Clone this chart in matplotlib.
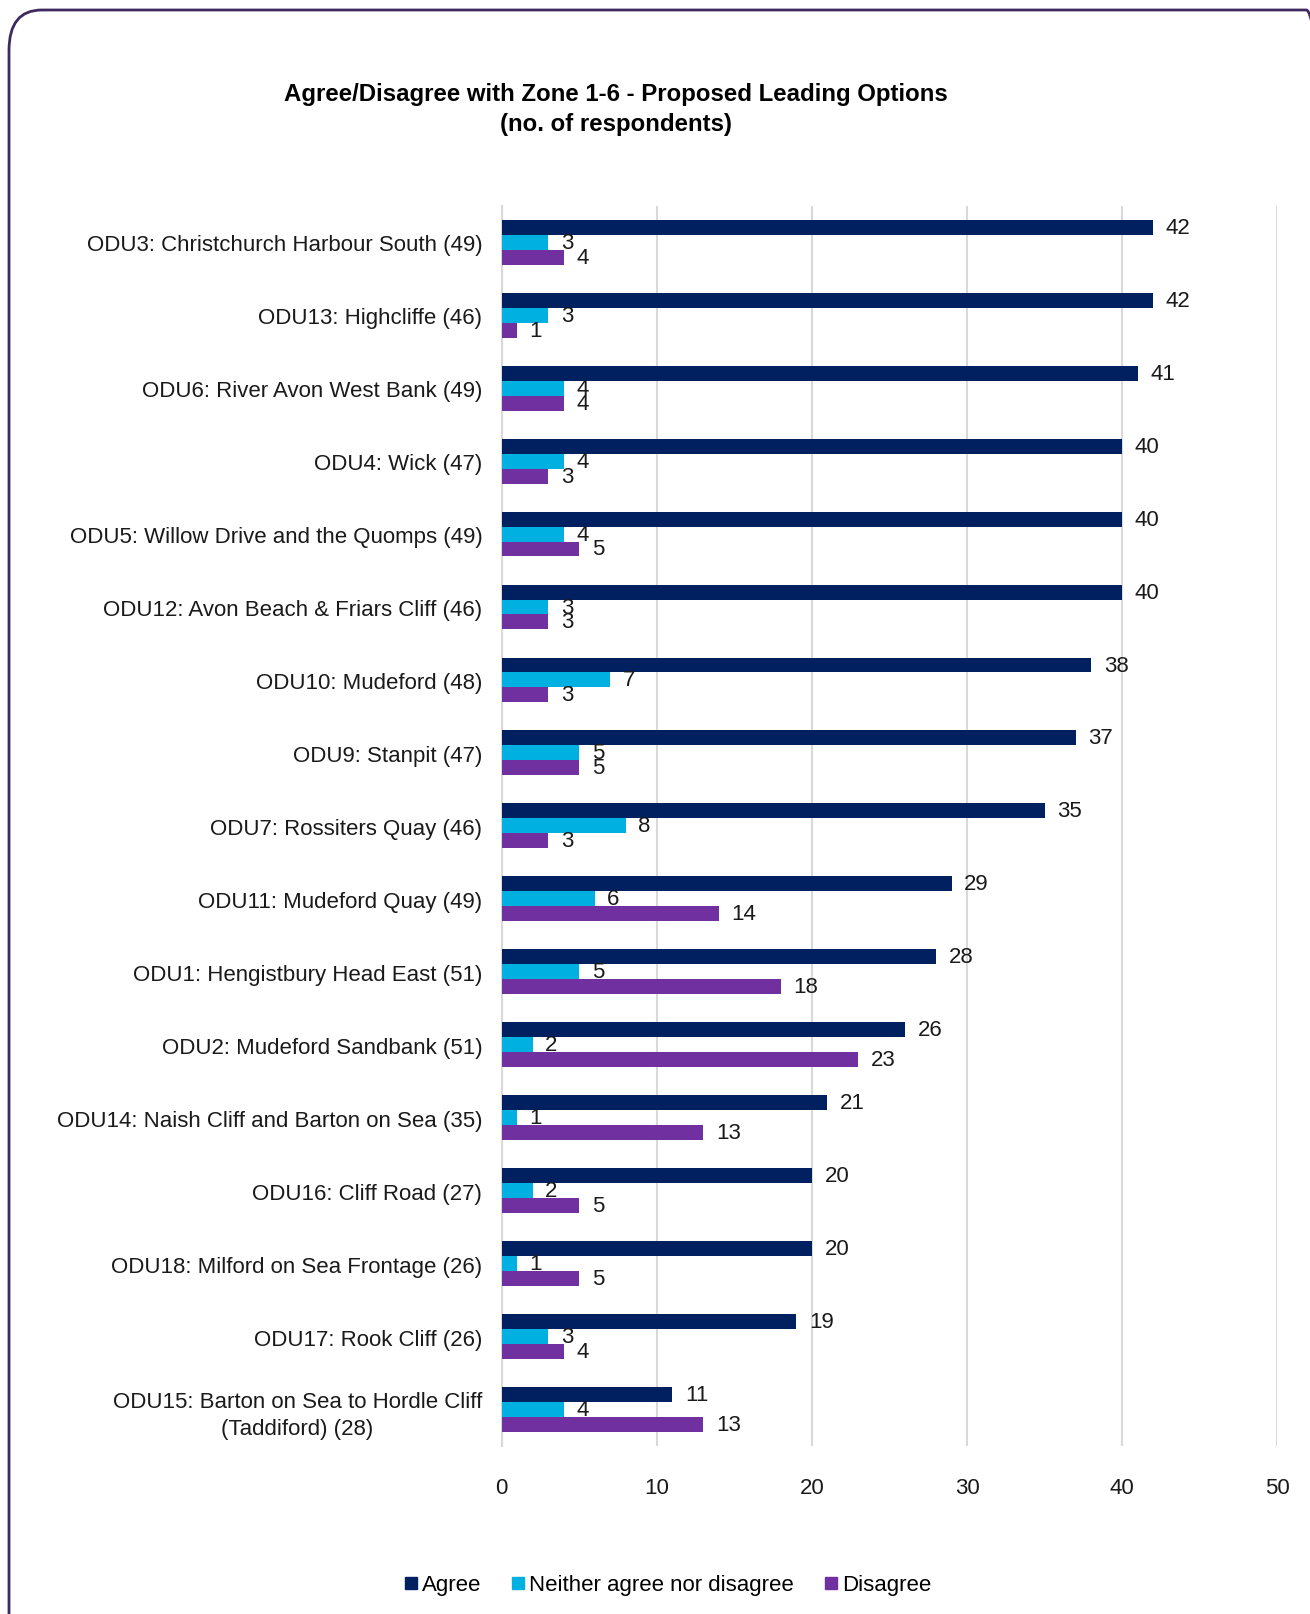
import numpy as np
import matplotlib.pyplot as plt
from matplotlib.patches import FancyBboxPatch
from matplotlib.lines import Line2D

plt.rcParams['font.family'] = ['Liberation Sans', 'DejaVu Sans']

categories = [
    'ODU3: Christchurch Harbour South (49)',
    'ODU13: Highcliffe (46)',
    'ODU6: River Avon West Bank (49)',
    'ODU4: Wick (47)',
    'ODU5: Willow Drive and the Quomps (49)',
    'ODU12: Avon Beach & Friars Cliff (46)',
    'ODU10: Mudeford (48)',
    'ODU9: Stanpit (47)',
    'ODU7: Rossiters Quay (46)',
    'ODU11: Mudeford Quay (49)',
    'ODU1: Hengistbury Head East (51)',
    'ODU2: Mudeford Sandbank (51)',
    'ODU14: Naish Cliff and Barton on Sea (35)',
    'ODU16: Cliff Road (27)',
    'ODU18: Milford on Sea Frontage (26)',
    'ODU17: Rook Cliff (26)',
    'ODU15: Barton on Sea to Hordle Cliff\n(Taddiford) (28)',
]
agree = [42, 42, 41, 40, 40, 40, 38, 37, 35, 29, 28, 26, 21, 20, 20, 19, 11]
neither = [3, 3, 4, 4, 4, 3, 7, 5, 8, 6, 5, 2, 1, 2, 1, 3, 4]
disagree = [4, 1, 4, 3, 5, 3, 3, 5, 3, 14, 18, 23, 13, 5, 5, 4, 13]

series = [('Agree', agree, '#002060'),
          ('Neither agree nor disagree', neither, '#00B0E0'),
          ('Disagree', disagree, '#7030A0')]

fig = plt.figure(figsize=(13.1, 16.15), dpi=100)
ax = fig.add_axes([0.383, 0.104, 0.592, 0.768])

y = np.arange(len(categories))
h = 0.205
fs = 16
for i, (name, vals, col) in enumerate(series):
    pos = y + (i - 1) * h
    bars = ax.barh(pos, vals, height=h, color=col, label=name, zorder=3)
    ax.bar_label(bars, labels=[str(v) for v in vals], padding=9, fontsize=fs, color='#1a1a1a')

ax.set_yticks(y)
ax.set_yticklabels(categories, fontsize=fs, color='#1a1a1a', ha='right',
                   multialignment='center', linespacing=1.4)
ax.set_ylim(len(categories) - 0.5, -0.5)
ax.set_xlim(0, 50)
ax.set_xticks(range(0, 51, 10))
ax.tick_params(axis='x', labelsize=fs, colors='#1a1a1a', length=0, pad=22)
ax.tick_params(axis='y', length=0, pad=14)
ax.grid(axis='x', color='#d9d9d9', linewidth=1.5, zorder=0)
for s in ['top', 'right', 'bottom']:
    ax.spines[s].set_visible(False)
ax.spines['left'].set_color('#d9d9d9')
ax.spines['left'].set_linewidth(1.5)

fig.text(0.47, 0.932, 'Agree/Disagree with Zone 1-6 - Proposed Leading Options\n(no. of respondents)',
         ha='center', va='center', fontsize=17.3, fontweight='bold', linespacing=1.38)

handles = [Line2D([], [], marker='s', linestyle='none', markersize=8, color=c) for _, _, c in series]
fig.legend(handles, [n for n, _, _ in series], loc='center', bbox_to_anchor=(0.509, 0.018),
           ncol=3, frameon=False, fontsize=fs, handletextpad=0.1, columnspacing=1.25,
           handlelength=0.8)

border = FancyBboxPatch((9 / 1310, -40 / 1615), 1330 / 1310, 1644 / 1615,
                        boxstyle='round,pad=0,rounding_size=0.025', transform=fig.transFigure,
                        fill=False, edgecolor='#3f2a60', linewidth=2, clip_on=False)
fig.patches.append(border)

fig.savefig('out.png', dpi=100)
